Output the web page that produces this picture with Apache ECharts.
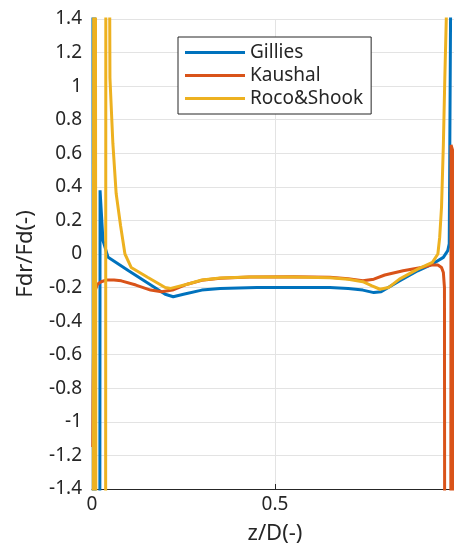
<!DOCTYPE html>
<html>
<head>
<meta charset="utf-8">
<script src="https://cdn.jsdelivr.net/npm/echarts@6/dist/echarts.min.js"></script>
<style>
  html, body { margin: 0; padding: 0; background: #fff; }
  #chart { width: 454px; height: 550px; }
</style>
</head>
<body>
<div id="chart"></div>
<script>
// Normalised drag force ratio across the pipe, z/D from wall to wall.
// Values beyond the +/-1.4 range run off the plot and are clipped there.
const seriesNames = ['Gillies', 'Kaushal', 'Roco&Shook'];

const gillies = [
  [0.002, 3], [0.004, -3], [0.006, 3], [0.009, -3], [0.021, -3], [0.022, 0.38],
  [0.030, 0.08], [0.044, -0.02], [0.10, -0.10], [0.15, -0.17], [0.20, -0.24],
  [0.222, -0.255], [0.25, -0.24], [0.30, -0.215], [0.35, -0.205], [0.45, -0.20],
  [0.55, -0.20], [0.65, -0.20], [0.70, -0.205], [0.74, -0.215], [0.77, -0.23],
  [0.79, -0.225], [0.84, -0.16], [0.89, -0.10], [0.93, -0.06], [0.96, -0.02],
  [0.972, 0.02], [0.976, 0.06], [0.984, 3]
];

const kaushal = [
  [0.002, -1.15], [0.003, -0.8], [0.005, -0.4], [0.008, -0.22], [0.015, -0.18],
  [0.025, -0.165], [0.04, -0.155], [0.06, -0.155], [0.08, -0.16], [0.12, -0.185],
  [0.16, -0.215], [0.19, -0.225], [0.22, -0.215], [0.26, -0.18], [0.30, -0.157],
  [0.35, -0.145], [0.43, -0.137], [0.55, -0.135], [0.65, -0.138], [0.70, -0.148],
  [0.74, -0.16], [0.77, -0.15], [0.80, -0.125], [0.85, -0.10], [0.90, -0.08],
  [0.93, -0.065], [0.945, -0.065], [0.955, -0.08], [0.960, -0.11], [0.963, -0.2],
  [0.964, -3], [0.980, -3], [0.981, 0.65], [0.985, 0.62], [0.990, -3]
];

const rocoShook = [
  [0.003, -3], [0.005, 3], [0.007, -3], [0.009, 3], [0.011, -3], [0.037, -3],
  [0.038, 3], [0.046, 3], [0.049, 1.05], [0.057, 0.66], [0.066, 0.36],
  [0.078, 0.17], [0.090, 0.0], [0.107, -0.08], [0.153, -0.14], [0.20, -0.20],
  [0.215, -0.205], [0.26, -0.18], [0.30, -0.155], [0.35, -0.143], [0.43, -0.137],
  [0.55, -0.137], [0.65, -0.142], [0.70, -0.15], [0.74, -0.165], [0.765, -0.19],
  [0.787, -0.21], [0.81, -0.20], [0.84, -0.15], [0.89, -0.09], [0.93, -0.05],
  [0.945, 0.0], [0.950, 0.1], [0.955, 0.28], [0.960, 0.65], [0.964, 1.05],
  [0.968, 1.4], [0.972, 3]
];

const xTicks = [0, 0.5, 1];
const yMin = -1.4, yMax = 1.4, yStep = 0.2;

const colors = ['#0072BD', '#D95319', '#EDB120'];
const font = 'Noto Sans';
const ink = '#262626';

const chart = echarts.init(document.getElementById('chart'), null, { renderer: 'canvas' });

function lineSeries(name, data, color) {
  return {
    name: name,
    type: 'line',
    data: data,
    showSymbol: false,
    clip: true,
    animation: false,
    lineStyle: { color: color, width: 3 },
    itemStyle: { color: color }
  };
}

chart.setOption({
  animation: false,
  backgroundColor: '#fff',
  textStyle: { fontFamily: font },
  grid: { left: 92, right: -4, top: 19, bottom: 61, outerBoundsMode: 'none', containLabel: false },
  legend: {
    data: seriesNames,
    orient: 'vertical',
    left: 178,
    top: 37,
    icon: 'rect',
    itemWidth: 60,
    itemHeight: 3,
    itemGap: 4,
    padding: [6, 8, 6, 7],
    backgroundColor: '#fff',
    borderColor: ink,
    borderWidth: 1,
    borderRadius: 0,
    textStyle: { fontFamily: font, fontSize: 19, color: ink, padding: [0, 0, 0, 0] }
  },
  xAxis: {
    type: 'value',
    min: 0,
    max: 1,
    interval: 0.5,
    name: 'z/D(-)',
    nameLocation: 'middle',
    nameGap: 34,
    nameTextStyle: { fontFamily: font, fontSize: 22, color: ink },
    axisLine: { show: true, onZero: false, lineStyle: { color: ink, width: 1 } },
    axisTick: { show: true, inside: true, length: 5, lineStyle: { color: ink } },
    axisLabel: {
      fontFamily: font, fontSize: 19, color: ink, margin: 6,
      formatter: v => (xTicks.indexOf(v) >= 0 ? String(v) : '')
    },
    splitLine: { show: true, lineStyle: { color: '#e3e3e3', width: 1 } }
  },
  yAxis: {
    type: 'value',
    min: yMin,
    max: yMax,
    interval: yStep,
    name: 'Fdr/Fd(-)',
    nameLocation: 'middle',
    nameGap: 55,
    nameRotate: 90,
    nameTextStyle: { fontFamily: font, fontSize: 22, color: ink },
    axisLine: { show: true, onZero: false, lineStyle: { color: ink, width: 1 } },
    axisTick: { show: true, inside: true, length: 5, lineStyle: { color: ink } },
    axisLabel: {
      fontFamily: font, fontSize: 19, color: ink, margin: 10,
      formatter: v => String(Math.round(v * 10) / 10)
    },
    splitLine: { show: true, lineStyle: { color: '#e3e3e3', width: 1 } }
  },
  series: [
    lineSeries(seriesNames[0], gillies, colors[0]),
    lineSeries(seriesNames[1], kaushal, colors[1]),
    lineSeries(seriesNames[2], rocoShook, colors[2])
  ]
});
</script>
</body>
</html>
